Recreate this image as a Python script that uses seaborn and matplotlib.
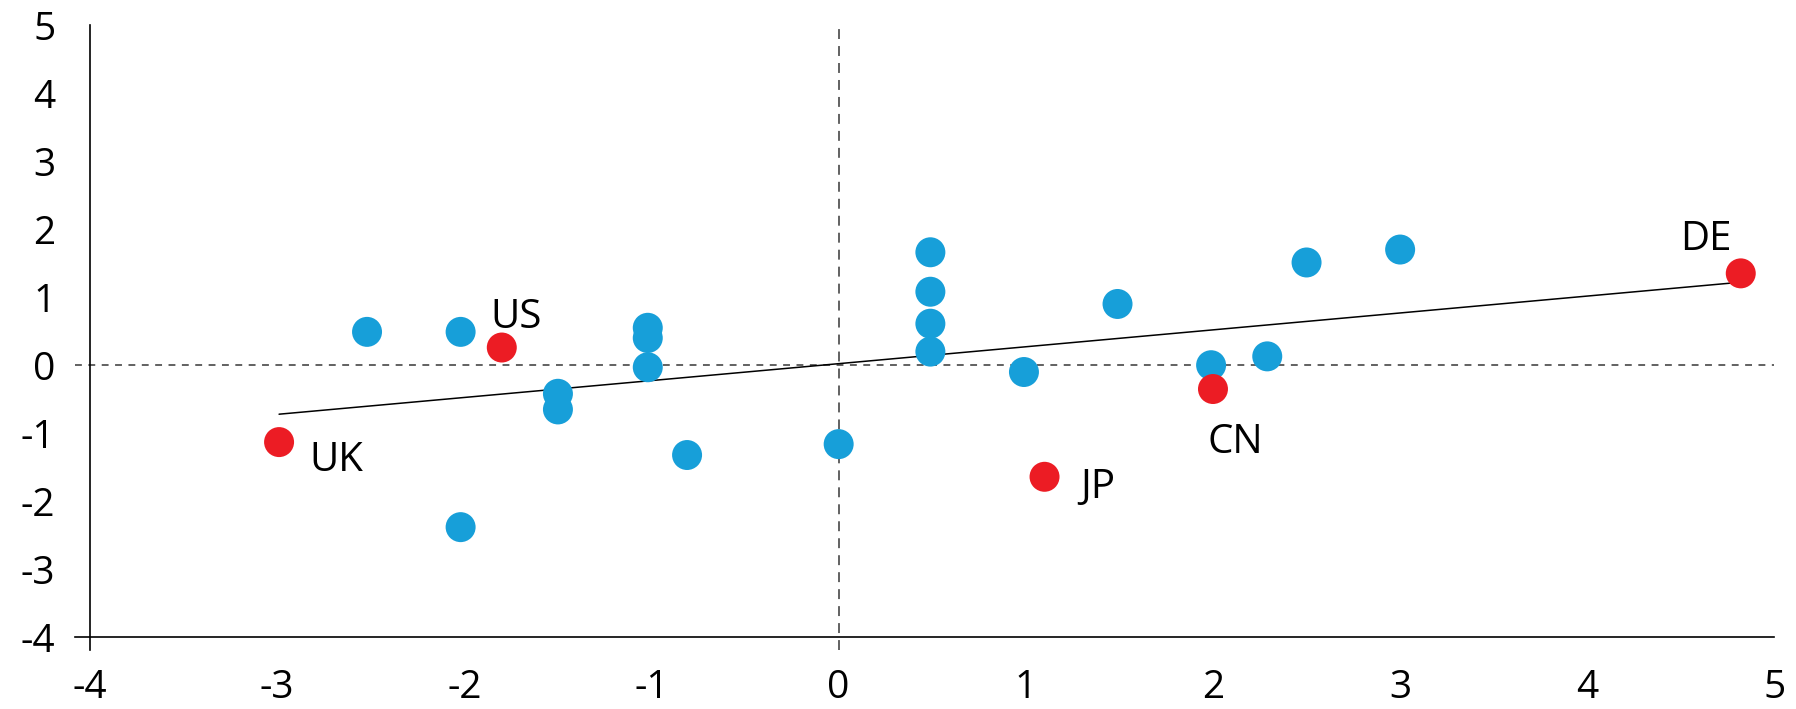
import matplotlib
matplotlib.use("Agg")
import matplotlib.pyplot as plt
import pandas as pd
import seaborn as sns

# other economies (blue)
other_x = [-2.52, -2.02, -1.5, -1.5, -2.02, -1.02, -1.02, -1.02, -0.81, 0.0,
           0.49, 0.49, 0.49, 0.49, 0.99, 1.49, 1.99, 2.29, 2.5, 3.0]
other_y = [0.49, 0.49, -0.42, -0.65, -2.38, 0.55, 0.40, -0.03, -1.32, -1.16,
           1.66, 1.08, 0.61, 0.20, -0.10, 0.90, 0.0, 0.13, 1.51, 1.70]

# highlighted economies (red)
hl_names = ["US", "UK", "JP", "CN", "DE"]
hl_x = [-1.8, -2.99, 1.1, 2.0, 4.82]
hl_y = [0.26, -1.13, -1.64, -0.35, 1.35]

# trend line
trend_x = [-2.99, 4.78]
trend_y = [-0.72, 1.21]

ticks = list(range(-4, 6))

BLUE = "#179fd9"
RED = "#ec1c24"

sns.set_theme(style="white")
plt.rcParams["font.family"] = ["Open Sans", "DejaVu Sans"]

df = pd.DataFrame({
    "x": other_x + hl_x,
    "y": other_y + hl_y,
    "group": ["other"] * len(other_x) + ["hl"] * len(hl_x),
})

fig = plt.figure(figsize=(17.96, 7.09), dpi=100)
ax = fig.add_axes([0.0418, 0.0832, 0.988 - 0.0418, 0.9647 - 0.0832])

ax.axhline(0, color="#555555", lw=1.3, ls=(0, (3.8, 3.6)), zorder=1)
ax.axvline(0, color="#555555", lw=1.3, ls=(0, (5.5, 3.9)), zorder=1)

ax.plot(trend_x, trend_y, color="black", lw=1.1, zorder=2)

sns.scatterplot(data=df, x="x", y="y", hue="group",
                palette={"other": BLUE, "hl": RED},
                marker="o", s=466, linewidth=0, legend=False,
                ax=ax, zorder=3)

# label offsets from each red dot, in points
offsets = {"US": (-7.9, 14.4), "UK": (22, -20.8), "JP": (26, -15.4),
           "CN": (-3.6, -46.4), "DE": (-44, 17.0)}
for name, x, y in zip(hl_names, hl_x, hl_y):
    ax.annotate(name, (x, y), xytext=offsets[name], textcoords="offset points",
                ha="left", va="baseline", fontsize=29, color="black")

ax.set_xlim(-4.08, 4.99)
ax.set_ylim(-4.186, 4.962)
ax.set_xticks(ticks)
ax.set_yticks(ticks)
ax.set_xticklabels([str(t) for t in ticks])
ax.set_yticklabels([str(t) for t in ticks])
ax.set_xlabel("")
ax.set_ylabel("")

for side in ["top", "right"]:
    ax.spines[side].set_visible(False)
ax.spines["left"].set_position(("data", -4))
ax.spines["bottom"].set_position(("data", -4))
for side in ["left", "bottom"]:
    ax.spines[side].set_color("black")
    ax.spines[side].set_linewidth(1.2)

ax.tick_params(axis="y", length=0, pad=25, labelsize=28, labelcolor="black")
ax.tick_params(axis="x", length=0, pad=22.5, labelsize=28, labelcolor="black")

fig.savefig("out.png", dpi=100)
plt.close(fig)
